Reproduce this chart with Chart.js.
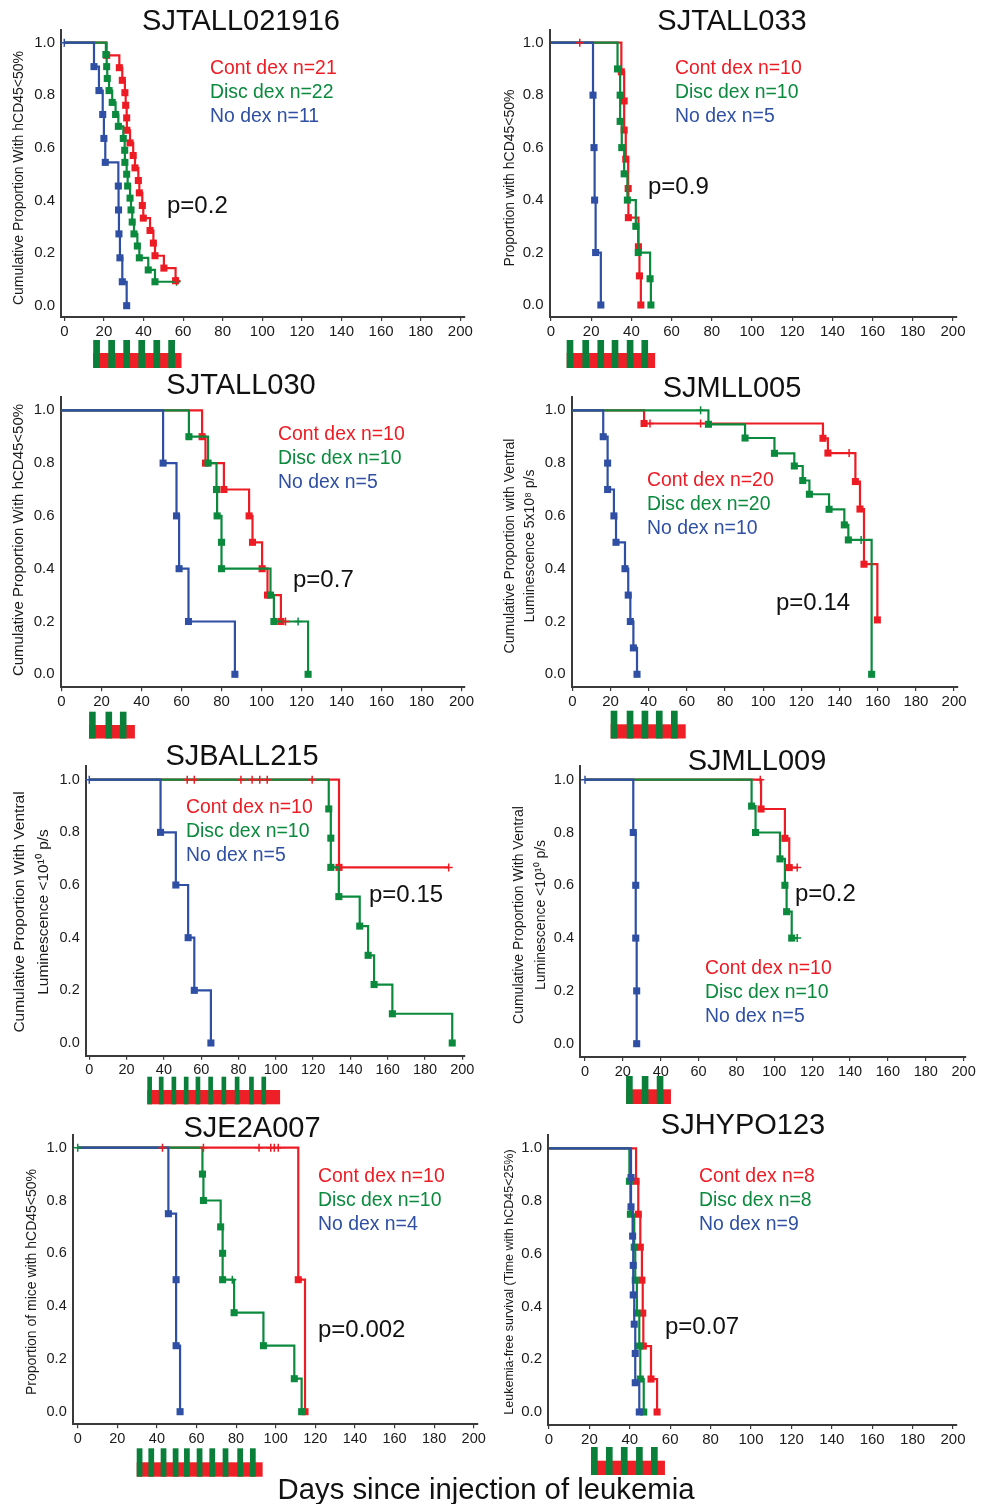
<!DOCTYPE html>
<html>
<head>
<meta charset="utf-8">
<script src="https://cdn.jsdelivr.net/npm/chart.js@4.4.1/dist/chart.umd.min.js"></script>
<style>
  body { margin: 0; background: #fff; }
  #page { position: relative; width: 990px; height: 1504px; overflow: hidden; font-family: 'Liberation Sans', Arial, sans-serif; }
  #page canvas { position: absolute; }
  .txt { position: absolute; white-space: nowrap; line-height: 1; }
</style>
</head>
<body>
<div id="page"></div>
<script>
// ticks shared by all panels
const xTicks = [0, 20, 40, 60, 80, 100, 120, 140, 160, 180, 200];
const yTicks = [0, 0.2, 0.4, 0.6, 0.8, 1.0];

// SJTALL021916  (t = event day, s = proportion after event, c = censored days)
const t1Cont = [21.4, 27.8, 29.3, 30.6, 31.0, 31.5, 31.6, 33.2, 34.8, 35.7, 37.4, 37.9, 39.4, 39.9, 43.3, 45.0, 45.8, 50.3, 56.2];
const s1Cont = [0.952, 0.905, 0.857, 0.810, 0.762, 0.714, 0.667, 0.619, 0.571, 0.524, 0.476, 0.429, 0.381, 0.333, 0.286, 0.238, 0.190, 0.143, 0.095];
const c1Cont = [56.7];
const t1Disc = [21.0, 21.4, 21.7, 22.6, 24.2, 25.9, 27.3, 29.8, 30.5, 30.6, 31.5, 32.0, 33.2, 33.7, 34.3, 35.2, 36.9, 37.9, 42.4, 45.8];
const s1Disc = [0.955, 0.909, 0.864, 0.818, 0.773, 0.727, 0.682, 0.636, 0.591, 0.545, 0.500, 0.455, 0.409, 0.364, 0.318, 0.273, 0.227, 0.182, 0.136, 0.091];
const c1Disc = [56.7];
const t1No = [15.0, 17.5, 19.4, 20.0, 20.7, 27.3, 27.4, 27.6, 28.1, 29.3, 31.5];
const s1No = [0.909, 0.818, 0.727, 0.636, 0.545, 0.455, 0.364, 0.273, 0.182, 0.091, 0];
const c1No = [0];

// SJTALL033
const t2Cont = [35.0, 36.4, 36.4, 37.2, 38.4, 38.5, 43.5, 44.0, 44.7];
const s2Cont = [0.889, 0.778, 0.667, 0.556, 0.444, 0.333, 0.222, 0.111, 0];
const c2Cont = [14.3];
const t2Disc = [33.1, 34.4, 34.4, 35.2, 36.4, 38.0, 42.2, 43.4, 49.3, 49.7];
const s2Disc = [0.9, 0.8, 0.7, 0.6, 0.5, 0.4, 0.3, 0.2, 0.1, 0];
const c2Disc = [];
const t2No = [20.9, 21.4, 21.7, 22.2, 24.8];
const s2No = [0.8, 0.6, 0.4, 0.2, 0];
const c2No = [];

// SJTALL030
const t3Cont = [70.3, 72.0, 81.2, 93.8, 95.5, 100.3, 103.0, 109.7];
const s3Cont = [0.9, 0.8, 0.7, 0.6, 0.5, 0.4, 0.3, 0.2];
const c3Cont = [112.0];
const t3Disc = [63.7, 73.3, 77.5, 77.8, 80.0, 80.0, 104.5, 106.2, 123.3];
const s3Disc = [0.9, 0.8, 0.7, 0.6, 0.5, 0.4, 0.3, 0.2, 0];
const c3Disc = [118.3];
const t3No = [50.8, 57.5, 58.8, 63.5, 86.7];
const s3No = [0.8, 0.6, 0.4, 0.2, 0];
const c3No = [];

// SJMLL005
const t4Cont = [37.6, 131.3, 133.9, 148.3, 150.7, 152.8, 159.8];
const s4Cont = [0.95, 0.894, 0.838, 0.73, 0.626, 0.417, 0.206];
const c4Cont = [40.7, 67.2, 145.0];
const t4Disc = [71.3, 90.5, 105.9, 116.3, 120.7, 124.2, 134.5, 142.5, 144.6, 156.8];
const s4Disc = [0.947, 0.895, 0.837, 0.789, 0.734, 0.682, 0.625, 0.566, 0.509, 0];
const c4Disc = [67.2, 151.3];
const t4No = [16.2, 18.5, 18.5, 21.8, 22.9, 27.6, 29.3, 30.4, 32.0, 33.9];
const s4No = [0.9, 0.8, 0.7, 0.6, 0.5, 0.4, 0.3, 0.2, 0.1, 0];
const c4No = [];

// SJBALL215
const t5Cont = [133.9];
const s5Cont = [0.667];
const c5Cont = [52.5, 56.3, 81.3, 87.3, 91.4, 95.4, 119.5, 192.7];
const t5Disc = [128.4, 129.5, 129.5, 133.8, 145.0, 149.5, 152.7, 162.5, 194.6];
const s5Disc = [0.889, 0.778, 0.667, 0.556, 0.444, 0.333, 0.222, 0.111, 0];
const c5Disc = [];
const t5No = [38.2, 46.4, 53.0, 56.3, 65.2];
const s5No = [0.8, 0.6, 0.4, 0.2, 0];
const c5No = [0];

// SJMLL009
const t6Cont = [93.0, 105.6, 107.9];
const s6Cont = [0.889, 0.778, 0.667];
const c6Cont = [92.6, 112.1];
const t6Disc = [88.0, 90.1, 103.0, 105.6, 106.5, 109.2];
const s6Disc = [0.9, 0.8, 0.7, 0.6, 0.5, 0.4];
const c6Disc = [112.1];
const t6No = [25.5, 26.8, 26.8, 27.3, 27.3];
const s6No = [0.8, 0.6, 0.4, 0.2, 0];
const c6No = [0];

// SJE2A007
const t7Cont = [111.4, 114.8];
const s7Cont = [0.5, 0];
const c7Cont = [42.8, 63.5, 91.6, 97.5, 99.3, 101.3];
const t7Disc = [63.0, 63.5, 72.2, 73.2, 73.2, 79.0, 93.8, 109.4, 113.1];
const s7Disc = [0.9, 0.8, 0.7, 0.6, 0.5, 0.375, 0.25, 0.125, 0];
const c7Disc = [0, 78.1];
const t7No = [45.8, 49.7, 49.7, 51.7];
const s7No = [0.75, 0.5, 0.25, 0];
const c7No = [];

// SJHYPO123
const t8Cont = [43.1, 44.2, 45.2, 46.0, 46.4, 46.7, 50.5, 53.5];
const s8Cont = [0.875, 0.75, 0.625, 0.5, 0.375, 0.25, 0.125, 0];
const c8Cont = [];
const t8Disc = [39.8, 40.3, 42.2, 42.7, 43.5, 44.7, 45.2, 46.9];
const s8Disc = [0.875, 0.75, 0.625, 0.5, 0.375, 0.25, 0.125, 0];
const c8Disc = [];
const t8No = [40.6, 40.6, 41.4, 41.7, 41.7, 42.2, 42.7, 42.7, 44.7];
const s8No = [0.889, 0.778, 0.667, 0.556, 0.444, 0.333, 0.222, 0.111, 0];
const c8No = [];

// dex pulses under each x axis (start days of green blocks, end of red strip)
const pulse1 = [14.6, 22.2, 29.8, 37.4, 45.0, 52.5], pulseEnd1 = 59.2;
const pulse2 = [7.8, 15.6, 23.1, 30.2, 37.7, 45.0], pulseEnd2 = 51.8;
const pulse3 = [13.8, 22.0, 29.2], pulseEnd3 = 36.7;
const pulse4 = [20.1, 28.5, 36.3, 43.8, 51.7], pulseEnd4 = 59.4;
const pulse5 = [31.1, 37.3, 44.1, 50.7, 57.0, 63.8, 70.9, 78.0, 85.7, 92.3], pulseEnd5 = 102.3;
const pulse6 = [21.7, 30.0, 37.9], pulseEnd6 = 45.4;
const pulse7 = [29.8, 35.7, 41.9, 48.0, 53.7, 60.1, 66.5, 73.2, 80.6, 87.0], pulseEnd7 = 93.4;
const pulse8 = [20.8, 28.2, 35.6, 43.1, 50.5], pulseEnd8 = 57.4;

const RED = '#ed1c24', GREEN = '#0b8a3e', BLUE = '#2e4fa3';
const BAR_RED = '#ee1f26', BAR_GREEN = '#0a7f3a';
const AXIS = '#3a3a3a', INK = '#1a1a1a';
const FONT = "'Liberation Sans', Arial, sans-serif";
const COLORS = [RED, GREEN, BLUE];

const panels = [
  { title: 'SJTALL021916', tx: 241, ty: 20, left: 0, top: 0, w: 490, h: 372,
    x0: 64.3, ppd: 1.98, aL: 61, aR: 465, y1: 42.7, y0: 305.7, aT: 30, aB: 317, tick: 15,
    groups: [[t1Cont, s1Cont, c1Cont], [t1Disc, s1Disc, c1Disc], [t1No, s1No, c1No]],
    legend: ['Cont dex n=21', 'Disc dex n=22', 'No dex n=11'], lx: 210, ly: 68,
    p: 'p=0.2', px: 167, py: 205,
    ytitle: ['Cumulative Proportion With hCD45<50%'], yx: [19], ycy: 178, yfs: 14,
    pulse: pulse1, pulseEnd: pulseEnd1, gw: 3.4, bars: [340, 353, 368] },
  { title: 'SJTALL033', tx: 732, ty: 20, left: 490, top: 0, w: 500, h: 372,
    x0: 551, ppd: 2.01, aL: 549.5, aR: 957, y1: 42.7, y0: 305, aT: 30, aB: 317, tick: 15,
    groups: [[t2Cont, s2Cont, c2Cont], [t2Disc, s2Disc, c2Disc], [t2No, s2No, c2No]],
    legend: ['Cont dex n=10', 'Disc dex n=10', 'No dex n=5'], lx: 675, ly: 68,
    p: 'p=0.9', px: 648, py: 186,
    ytitle: ['Proportion with hCD45<50%'], yx: [510], ycy: 178, yfs: 14,
    pulse: pulse2, pulseEnd: pulseEnd2, gw: 3.3, bars: [340, 353, 368] },
  { title: 'SJTALL030', tx: 241, ty: 384, left: 0, top: 372, w: 490, h: 372,
    x0: 61.5, ppd: 2.0, aL: 60.5, aR: 465, y1: 410.3, y0: 674.3, aT: 397, aB: 687.3, tick: 15,
    groups: [[t3Cont, s3Cont, c3Cont], [t3Disc, s3Disc, c3Disc], [t3No, s3No, c3No]],
    legend: ['Cont dex n=10', 'Disc dex n=10', 'No dex n=5'], lx: 278, ly: 434,
    p: 'p=0.7', px: 293, py: 579,
    ytitle: ['Cumulative Proportion With hCD45<50%'], yx: [19], ycy: 540, yfs: 15,
    pulse: pulse3, pulseEnd: pulseEnd3, gw: 3.3, bars: [711.7, 725, 738.5] },
  { title: 'SJMLL005', tx: 732, ty: 387, left: 490, top: 372, w: 500, h: 372,
    x0: 572.3, ppd: 1.909, aL: 571.5, aR: 958, y1: 410.3, y0: 674.3, aT: 397, aB: 687, tick: 15,
    groups: [[t4Cont, s4Cont, c4Cont], [t4Disc, s4Disc, c4Disc], [t4No, s4No, c4No]],
    legend: ['Cont dex n=20', 'Disc dex n=20', 'No dex n=10'], lx: 647, ly: 480,
    p: 'p=0.14', px: 776, py: 602,
    ytitle: ['Cumulative Proportion with Ventral', 'Luminescence 5x10\u2078 p/s'], yx: [510, 530], ycy: 546, yfs: 14,
    pulse: pulse4, pulseEnd: pulseEnd4, gw: 3.5, bars: [710.7, 724.3, 738.5] },
  { title: 'SJBALL215', tx: 242, ty: 755, left: 0, top: 744, w: 490, h: 368,
    x0: 89.3, ppd: 1.865, aL: 85.7, aR: 465, y1: 779.7, y0: 1043, aT: 766, aB: 1055.7, tick: 14.5,
    groups: [[t5Cont, s5Cont, c5Cont], [t5Disc, s5Disc, c5Disc], [t5No, s5No, c5No]],
    legend: ['Cont dex n=10', 'Disc dex n=10', 'No dex n=5'], lx: 186, ly: 807,
    p: 'p=0.15', px: 369, py: 894,
    ytitle: ['Cumulative Proportion With Ventral', 'Luminescence <10\u00b9\u2070 p/s'], yx: [20, 44], ycy: 912, yfs: 15.5,
    pulse: pulse5, pulseEnd: pulseEnd5, gw: 2.5, bars: [1076.7, 1090, 1104.3] },
  { title: 'SJMLL009', tx: 757, ty: 760, left: 490, top: 744, w: 500, h: 368,
    x0: 585, ppd: 1.893, aL: 580, aR: 966, y1: 779.7, y0: 1043.7, aT: 766, aB: 1057, tick: 14.5,
    groups: [[t6Cont, s6Cont, c6Cont], [t6Disc, s6Disc, c6Disc], [t6No, s6No, c6No]],
    legend: ['Cont dex n=10', 'Disc dex n=10', 'No dex n=5'], lx: 705, ly: 968,
    p: 'p=0.2', px: 795, py: 893,
    ytitle: ['Cumulative Proportion With Ventral', 'Luminescence <10\u00b9\u2070 p/s'], yx: [519, 541], ycy: 915, yfs: 14,
    pulse: pulse6, pulseEnd: pulseEnd6, gw: 3.5, bars: [1076, 1089.3, 1104] },
  { title: 'SJE2A007', tx: 252, ty: 1127, left: 0, top: 1112, w: 490, h: 370,
    x0: 77.7, ppd: 1.98, aL: 72.7, aR: 478, y1: 1147.7, y0: 1411.7, aT: 1135, aB: 1424.3, tick: 14.5,
    groups: [[t7Cont, s7Cont, c7Cont], [t7Disc, s7Disc, c7Disc], [t7No, s7No, c7No]],
    legend: ['Cont dex n=10', 'Disc dex n=10', 'No dex n=4'], lx: 318, ly: 1176,
    p: 'p=0.002', px: 318, py: 1329,
    ytitle: ['Proportion of mice with hCD45<50%'], yx: [32], ycy: 1282, yfs: 14,
    pulse: pulse7, pulseEnd: pulseEnd7, gw: 2.9, bars: [1448.3, 1462.3, 1476.7] },
  { title: 'SJHYPO123', tx: 743, ty: 1124, left: 490, top: 1112, w: 500, h: 370,
    x0: 549, ppd: 2.02, aL: 548, aR: 957, y1: 1148.3, y0: 1412, aT: 1135, aB: 1425, tick: 15,
    groups: [[t8Cont, s8Cont, c8Cont], [t8Disc, s8Disc, c8Disc], [t8No, s8No, c8No]],
    legend: ['Cont dex n=8', 'Disc dex n=8', 'No dex n=9'], lx: 699, ly: 1176,
    p: 'p=0.07', px: 665, py: 1326,
    ytitle: ['Leukemia-free survival (Time with hCD45<25%)'], yx: [510], ycy: 1282, yfs: 12.5,
    pulse: pulse8, pulseEnd: pulseEnd8, gw: 3.3, bars: [1447, 1460.7, 1475] }
];

const page = document.getElementById('page');

// step curve: start at 1.0, one point per event, run on to the last censored day
function kmLine(t, s, c) {
  const pts = [{ x: 0, y: 1 }];
  t.forEach((d, i) => pts.push({ x: d, y: s[i], m: true }));
  const last = pts[pts.length - 1];
  const end = c.length ? Math.max(...c) : 0;
  if (end > last.x) pts.push({ x: end, y: last.y });
  return pts;
}

function levelAt(t, s, day) {
  let y = 1;
  t.forEach((d, i) => { if (d <= day) y = s[i]; });
  return y;
}

// dex schedule strip + rotated y titles
const decoPlugin = {
  id: 'deco',
  afterDraw(chart, args, o) {
    const c = chart.ctx, x = chart.scales.x;
    const [bTop, bMid, bBot] = o.bars;
    c.save();
    const r0 = x.getPixelForValue(o.pulse[0]), r1 = x.getPixelForValue(o.pulseEnd);
    c.fillStyle = BAR_RED;
    c.fillRect(r0, bMid, r1 - r0, bBot - bMid);
    c.fillStyle = BAR_GREEN;
    o.pulse.forEach(d => {
      const g0 = x.getPixelForValue(d), g1 = x.getPixelForValue(d + o.gw);
      c.fillRect(g0, bTop, g1 - g0, bBot - bTop);
    });
    c.fillStyle = INK;
    c.font = o.yfs + 'px ' + FONT;
    c.textAlign = 'center';
    c.textBaseline = 'middle';
    o.ytitle.forEach((line, i) => {
      c.save();
      c.translate(o.yx[i], o.ycy);
      c.rotate(-Math.PI / 2);
      c.fillText(line, 0, 0);
      c.restore();
    });
    c.restore();
  }
};

function addText(str, x, cy, size, color, center) {
  const d = document.createElement('div');
  d.className = 'txt';
  d.textContent = str;
  d.style.fontSize = size + 'px';
  d.style.color = color;
  d.style.top = (cy - size * 0.5) + 'px';
  d.style.left = x + 'px';
  if (center) d.style.transform = 'translateX(-50%)';
  page.appendChild(d);
}

function makePanel(p) {
  const cv = document.createElement('canvas');
  cv.width = p.w; cv.height = p.h;
  cv.style.left = p.left + 'px'; cv.style.top = p.top + 'px';
  cv.style.width = p.w + 'px'; cv.style.height = p.h + 'px';
  page.appendChild(cv);

  const ymin = (p.y0 - p.aB) / (p.y0 - p.y1);
  const ymax = (p.y0 - p.aT) / (p.y0 - p.y1);
  const xmin = (p.aL - p.x0) / p.ppd;
  const xmax = (p.aR - p.x0) / p.ppd;

  const datasets = [];
  p.groups.forEach((g, i) => {
    const [t, s, c] = g;
    datasets.push({
      data: c.map(d => ({ x: d, y: levelAt(t, s, d) })),
      showLine: false, pointStyle: 'cross', pointRadius: 4,
      pointBorderColor: COLORS[i], pointBorderWidth: 1.5, order: 0
    });
    datasets.push({
      data: kmLine(t, s, c),
      showLine: true, stepped: 'before', borderColor: COLORS[i], borderWidth: 2.2,
      pointStyle: 'rect', pointRadius: ctx => (ctx.raw && ctx.raw.m ? 5 : 0),
      pointBackgroundColor: COLORS[i], pointBorderWidth: 0, order: 3 - i
    });
  });

  const tickFont = { family: FONT, size: p.tick };
  new Chart(cv, {
    type: 'scatter',
    data: { datasets: datasets },
    options: {
      responsive: false, animation: false, events: [],
      clip: false,
      layout: { padding: { top: p.aT - p.top, right: p.left + p.w - p.aR, left: 0, bottom: 0 } },
      plugins: {
        legend: { display: false },
        tooltip: { enabled: false },
        deco: {
          bars: p.bars.map(v => v - p.top), pulse: p.pulse, pulseEnd: p.pulseEnd, gw: p.gw,
          ytitle: p.ytitle, yx: p.yx.map(v => v - p.left), ycy: p.ycy - p.top, yfs: p.yfs
        }
      },
      scales: {
        x: {
          type: 'linear', min: xmin, max: xmax,
          afterFit: s => { s.height = p.top + p.h - p.aB; },
          afterBuildTicks: s => { s.ticks = xTicks.map(v => ({ value: v })); },
          grid: { display: true, drawOnChartArea: false, drawTicks: true, tickLength: 4, tickColor: AXIS, lineWidth: 1.2 },
          border: { color: AXIS, width: 2 },
          ticks: { font: tickFont, color: INK, padding: 2, maxRotation: 0, autoSkip: false, callback: v => v }
        },
        y: {
          type: 'linear', min: ymin, max: ymax,
          afterFit: s => { s.width = p.aL - p.left; },
          afterBuildTicks: s => { s.ticks = yTicks.map(v => ({ value: v })); },
          grid: { display: false, drawTicks: false },
          border: { color: AXIS, width: 2 },
          ticks: { font: tickFont, color: INK, padding: 6, callback: v => v.toFixed(1) }
        }
      }
    },
    plugins: [decoPlugin]
  });
}

panels.forEach(makePanel);

panels.forEach(p => {
  addText(p.title, p.tx, p.ty, 29, '#111', true);
  p.legend.forEach((txt, i) => addText(txt, p.lx, p.ly + i * 24, 19.4, COLORS[i], false));
  addText(p.p, p.px, p.py, 24, '#111', false);
});

addText('Days since injection of leukemia', 486, 1489, 29.3, '#111', true);
</script>
</body>
</html>
